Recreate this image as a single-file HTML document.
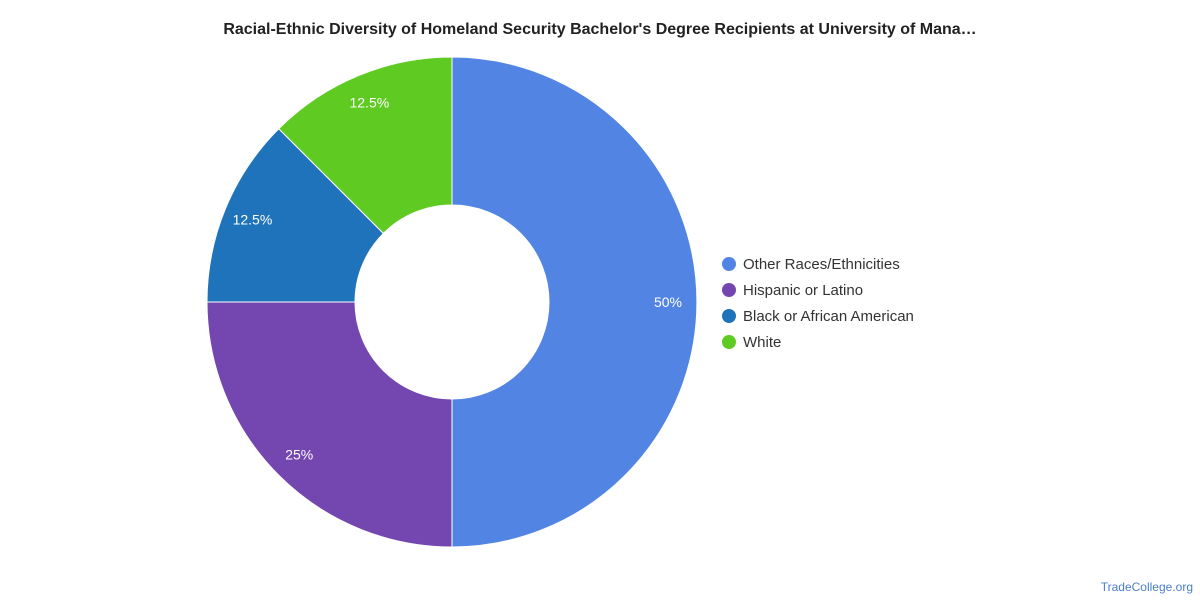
<!DOCTYPE html>
<html><head><meta charset="utf-8"><style>
body{margin:0;background:#fff;font-family:"Liberation Sans",sans-serif;}
svg{display:block}
</style></head><body>
<svg width="1200" height="600">
<text x="600" y="34" text-anchor="middle" font-size="16" font-weight="bold" fill="#222">Racial-Ethnic Diversity of Homeland Security Bachelor's Degree Recipients at University of Mana…</text>
<g id="pie"></g>
<g id="legend"></g>
<text x="1193" y="591" text-anchor="end" font-size="12" fill="#4a7fc8">TradeCollege.org</text>
</svg>
<script>
const categories=["Other Races/Ethnicities","Hispanic or Latino","Black or African American","White"];
const values=[50,25,12.5,12.5];
const labels=["50%","25%","12.5%","12.5%"];
const colors=["#5285e3","#7446b0","#1f73bb","#5fcb22"];
const NS="http://www.w3.org/2000/svg";
const cx=452,cy=302,R=245,r=97,LR=216;
const pie=document.getElementById('pie'),leg=document.getElementById('legend');
const total=values.reduce((a,b)=>a+b,0);
let a=0;
function pt(rad,ang){return [cx+rad*Math.sin(ang),cy-rad*Math.cos(ang)];}
values.forEach((v,i)=>{
  const a0=a,a1=a+v/total*2*Math.PI;a=a1;
  const big=(a1-a0)>Math.PI?1:0;
  const [x0,y0]=pt(R,a0),[x1,y1]=pt(R,a1),[x2,y2]=pt(r,a1),[x3,y3]=pt(r,a0);
  const p=document.createElementNS(NS,'path');
  p.setAttribute('d',`M${x0},${y0}A${R},${R} 0 ${big} 1 ${x1},${y1}L${x2},${y2}A${r},${r} 0 ${big} 0 ${x3},${y3}Z`);
  p.setAttribute('fill',colors[i]);p.setAttribute('stroke','#fff');p.setAttribute('stroke-width','1');
  
  
  pie.appendChild(p);
  const [lx,ly]=pt(LR,(a0+a1)/2);
  const t=document.createElementNS(NS,'text');
  t.setAttribute('x',lx);t.setAttribute('y',ly+5);t.setAttribute('text-anchor','middle');
  t.setAttribute('font-size','14');t.setAttribute('fill','#fff');t.textContent=labels[i];
  
  
  pie.appendChild(t);
  const g=document.createElementNS(NS,'g');
  
  
  const c=document.createElementNS(NS,'circle');
  c.setAttribute('cx',729);c.setAttribute('cy',264+i*26);c.setAttribute('r',7);c.setAttribute('fill',colors[i]);
  const lt=document.createElementNS(NS,'text');
  lt.setAttribute('x',743);lt.setAttribute('y',269+i*26);lt.setAttribute('font-size','15');lt.setAttribute('fill','#333');
  lt.textContent=categories[i];
  g.appendChild(c);g.appendChild(lt);leg.appendChild(g);
});
</script>
</body></html>
